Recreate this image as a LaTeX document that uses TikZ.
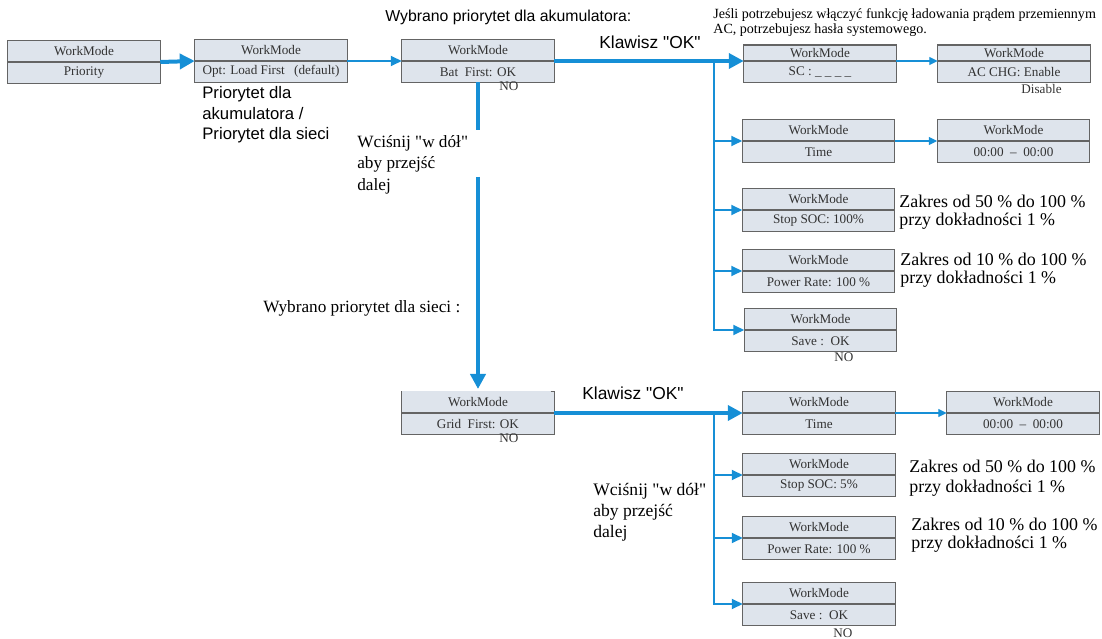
\documentclass[tikz,border=0pt]{standalone}
\usepackage{fontspec}
\setmainfont{Liberation Serif}
\newfontfamily\labelsans{Liberation Sans}
\usepackage{tikz}
\usetikzlibrary{arrows.meta}
\definecolor{linkblue}{RGB}{22,143,214}
\definecolor{panelfill}{RGB}{222,228,236}
\definecolor{paneledge}{RGB}{100,100,100}
\definecolor{paneltext}{RGB}{50,50,50}

% ekran WorkMode: tytul nad linia podzialu, wartosc pod nia
\newcommand{\wmscreen}[4][]{%
  \node[scrtop, #1] (#2) at (#3) {WorkMode};
  \node[scrval] (#2v) at (#3) {#4};}

\begin{document}
\begin{tikzpicture}[
  every node/.style={inner sep=0pt},
  scrtop/.style={draw=paneledge, fill=panelfill, line width=0.6pt, minimum width=3.05cm, minimum height=0.43cm, outer sep=0pt, anchor=south, text=paneltext, font=\fontsize{7.5}{9}\selectfont},
  scrval/.style={scrtop, anchor=north},
  choice/.style={anchor=base west, text=paneltext, font=\fontsize{7.5}{9}\selectfont},
  sanslabel/.style={anchor=base west, font=\labelsans\fontsize{9.9}{12}\selectfont},
  seriflabel/.style={anchor=north west, align=left},
  bigline/.style={line width=0.08cm, draw=linkblue},
  bigarrow/.style={bigline, -{Triangle[length=0.3cm, width=0.3cm]}},
  midarrow/.style={line width=0.04cm, draw=linkblue, -{Triangle[length=0.22cm, width=0.2cm]}},
  fineline/.style={line width=0.025cm, draw=linkblue, -{Triangle[length=0.17cm, width=0.16cm]}}
]
  \useasboundingbox (0,0) rectangle (22.04,12.78);

  % Tryb pracy
  \wmscreen{prio}{1.68,11.54}{Priority}
  \wmscreen{opt}{5.42,11.56}{Opt: Load First\hspace{0.7em}(default)}
  \wmscreen{bat}{9.56,11.56}{Bat\ \ First: OK}

  % Priorytet akumulatora
  \wmscreen[minimum height=0.32cm]{sc}{16.40,11.56}{SC : \_ \_ \_ \_}
  \wmscreen[minimum height=0.32cm]{acchg}{20.28,11.56}{AC CHG: Enable}
  \wmscreen{time}{16.37,9.96}{Time}
  \wmscreen{timeset}{20.27,9.96}{00:00\enspace--\enspace00:00}
  \wmscreen{soc}{16.37,8.58}{Stop SOC: 100\%}
  \wmscreen{rate}{16.37,7.36}{Power Rate: 100 \%}
  \wmscreen{save}{16.41,6.18}{Save :\enspace OK}

  % Priorytet sieci
  \wmscreen[draw=none]{grid}{9.56,4.52}{Grid\ \ First: OK}
  \draw[paneledge, line width=0.6pt] (grid.north west) -- (grid.south west)
    ([xshift=-2pt]grid.north east) -- (grid.north east) -- (grid.south east);
  \wmscreen{gtime}{16.38,4.52}{Time}
  \wmscreen{gtimeset}{20.46,4.52}{00:00\enspace--\enspace00:00}
  \wmscreen{gsoc}{16.38,3.28}{Stop SOC: 5\%}
  \wmscreen{grate}{16.38,2.02}{Power Rate: 100 \%}
  \wmscreen{gsave}{16.38,0.70}{Save :\enspace OK}

  \node[choice] (batno) at (9.98,10.96) {NO};
  \node[choice] (saveno) at (16.68,5.54) {NO};
  \node[choice] (gridno) at (9.98,3.92) {NO};
  \node[choice] (gsaveno) at (16.66,0.02) {NO};
  \node[choice] (acchgoff) at (20.42,10.90) {Disable};

  % Opisy
  \node[sanslabel, font=\labelsans\fontsize{9}{11}\selectfont] (battitle) at (7.70,12.34) {Wybrano priorytet dla akumulatora:};
  \node[sanslabel] (okbat) at (11.98,11.80) {Klawisz "OK"};
  \node[sanslabel] (okgrid) at (11.64,4.78) {Klawisz "OK"};
  \node[anchor=base west, font=\fontsize{9.8}{12}\selectfont] (gridtitle) at (5.26,6.52) {Wybrano priorytet dla sieci :};
  \node[seriflabel, font=\labelsans\fontsize{9.5}{11.7}\selectfont] (optnote) at (4.04,11.06) {Priorytet dla\\akumulatora /\\Priorytet dla sieci};
  \node[seriflabel, font=\fontsize{9.8}{12.2}\selectfont] (batdown) at (7.14,10.08) {Wciśnij \textquotedbl w dół\textquotedbl\\aby przejść\\dalej};
  \node[seriflabel, font=\fontsize{10}{12}\selectfont] (griddown) at (11.86,3.12) {Wciśnij \textquotedbl w dół\textquotedbl\\aby przejść\\dalej};
  \node[seriflabel, font=\fontsize{8}{8.5}\selectfont] (acnote) at (14.26,12.62) {Jeśli potrzebujesz włączyć funkcję ładowania prądem przemiennym\\AC, potrzebujesz hasła systemowego.};
  \node[seriflabel, font=\fontsize{10.2}{10.3}\selectfont] (socnote) at (17.98,8.88) {Zakres od 50 \% do 100 \%\\przy dokładności 1 \%};
  \node[seriflabel, font=\fontsize{10.2}{10.3}\selectfont] (ratenote) at (18.00,7.72) {Zakres od 10 \% do 100 \%\\przy dokładności 1 \%};
  \node[seriflabel, font=\fontsize{10.2}{11.4}\selectfont] (gsocnote) at (18.18,3.58) {Zakres od 50 \% do 100 \%\\przy dokładności 1 \%};
  \node[seriflabel, font=\fontsize{10.2}{10.3}\selectfont] (gratenote) at (18.22,2.42) {Zakres od 10 \% do 100 \%\\przy dokładności 1 \%};

  % Strzalki
  \draw[bigarrow] (prio.south east) -- (opt.south west);
  \draw[midarrow] (opt.south east) -- (bat.south west);
  \draw[bigarrow] (bat.south east) -- (sc.south west);
  \coordinate (hub) at (14.28,11.56);
  \draw[midarrow] (hub) |- (save.south west);
  \foreach \s in {time, soc, rate}
    \draw[midarrow] (hub |- \s.south west) -- (\s.south west);
  \draw[fineline] (sc.south east) -- (acchg.south west);
  \draw[fineline] (time.south east) -- (timeset.south west);

  \coordinate (downa) at (9.56,10.18);
  \coordinate (downb) at (9.56,9.24);
  \draw[bigline] (batv.south) -- (downa);
  \draw[bigarrow, shorten >=0.05cm] (downb) -- (grid.north);

  \draw[bigarrow] (grid.south east) -- (gtime.south west);
  \coordinate (ghub) at (14.28,4.52);
  \draw[midarrow] (ghub) |- (gsave.south west);
  \foreach \s in {gsoc, grate}
    \draw[midarrow] (ghub |- \s.south west) -- (\s.south west);
  \draw[fineline] (gtime.south east) -- (gtimeset.south west);
\end{tikzpicture}
\end{document}
